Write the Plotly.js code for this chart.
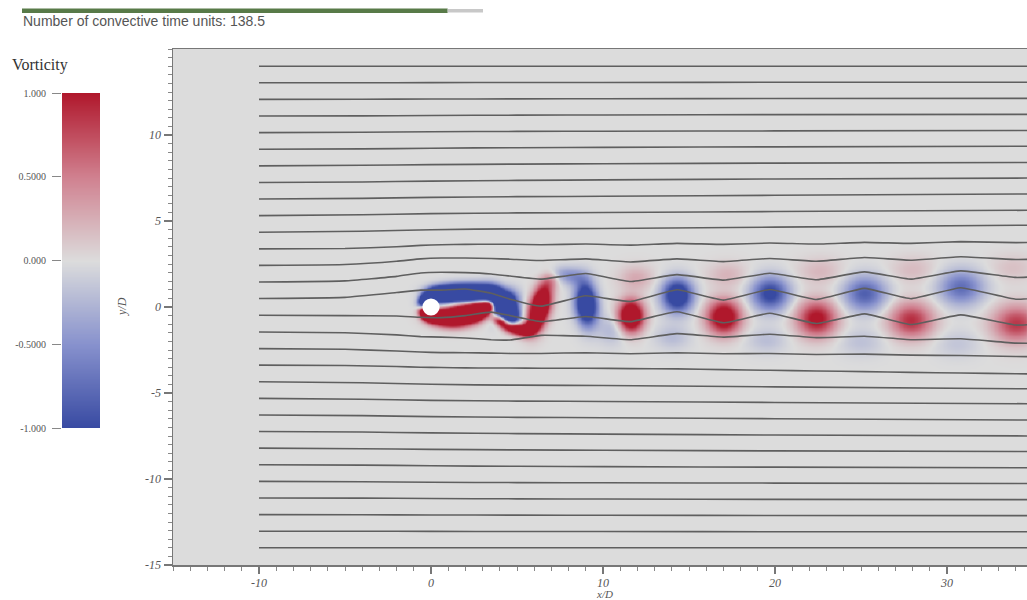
<!DOCTYPE html>
<html>
<head>
<meta charset="utf-8">
<script src="https://cdn.plot.ly/plotly-3.0.1.min.js"></script>
<style>html,body{margin:0;padding:0;background:#fff;overflow:hidden}#chart{width:1027px;height:600px}</style>
</head>
<body>
<div id="chart"></div>
<script>
// ---------------- data ----------------
const timeNow = 138.5;
const timeTotal = 150;
const titleText = "Number of convective time units: " + timeNow;

const xTickVals = [-10, 0, 10, 20, 30];
const xTickText = ["-10", "0", "10", "20", "30"];
const yTickVals = [-15, -10, -5, 0, 5, 10];
const yTickText = ["-15", "-10", "-5", "0", "5", "10"];
const colorbarTickVals = [-1, -0.5, 0, 0.5, 1];
const colorbarTickText = ["-1.000", "-0.5000", "0.000", "0.5000", "1.000"];

// vortex patches (centre x, centre y, peak vorticity, size along/across, tilt deg)
const vortX  = [-0.35, 0.4, 1.4, 2.5, 3.6, 4.3, 4.7,   -0.3, 0.6, 1.7, 2.7, 3.3,   4.0, 4.9, 5.7,   6.3, 6.9, 7.6,   9.0, 8.3, 10.5,
                11.6, 14.3, 17.0, 19.7, 22.4, 25.2, 27.9, 30.8, 34.0,
                11.9, 17.2, 22.6, 28.0, 33.8,   14.0, 19.5, 25.0, 30.6];
const vortY  = [0.45, 0.75, 0.85, 0.85, 0.65, 0.05, -0.5,   -0.4, -0.55, -0.45, -0.2, 0.1,   -0.8, -1.25, -1.25,   0.0, 1.6, 2.0,   0.2, 1.7, -1.3,
                -0.5, 0.7, -0.56, 0.8, -0.65, 0.8, -0.75, 1.15, -0.95,
                1.7, 1.9, 2.1, 2.2, 2.3,   -1.7, -1.9, -2.0, -2.1];
const vortW  = [-2.5, -2.5, -2.5, -2.5, -2.5, -2.3, -1.5,   2.5, 2.5, 2.6, 2.4, 1.8,   1.6, 1.7, 1.7,   2.2, 0.35, -0.3,   -1.9, -0.35, -0.25,
                1.8, -1.5, 1.4, -1.1, 1.1, -0.85, 0.9, -0.75, 0.85,
                0.28, 0.22, 0.2, 0.18, 0.15,   -0.22, -0.2, -0.18, -0.15];
const vortSx = [0.3, 0.5, 0.6, 0.6, 0.5, 0.4, 0.3,   0.3, 0.55, 0.6, 0.5, 0.3,   0.35, 0.45, 0.35,   0.38, 0.35, 0.7,   0.42, 0.6, 0.6,
                0.5, 0.6, 0.68, 0.75, 0.8, 0.85, 0.88, 0.9, 0.95,
                0.7, 0.8, 0.9, 0.9, 0.9,   0.7, 0.8, 0.9, 0.9];
const vortSy = [0.2, 0.3, 0.32, 0.33, 0.4, 0.55, 0.35,   0.2, 0.3, 0.38, 0.35, 0.25,   0.2, 0.22, 0.25,   0.85, 0.4, 0.3,   0.82, 0.35, 0.6,
                0.62, 0.65, 0.68, 0.68, 0.72, 0.7, 0.72, 0.7, 0.75,
                0.5, 0.5, 0.55, 0.55, 0.55,   0.5, 0.5, 0.55, 0.55];
const vortRot = [40, 0, 0, 0, -20, -30, 0,   -40, 0, 15, 30, 45,   -30, -10, 30,   -15, -30, 0,   5, 0, 0,
                 0, 0, 0, 0, 0, 0, 0, 0, 0,
                 0, 0, 0, 0, 0,   0, 0, 0, 0];

// streamline seeds at x/D = -10
const seedY = [-14.000,-13.034,-12.069,-11.103,-10.138,-9.172,-8.207,-7.241,-6.276,-5.310,-4.345,-3.379,-2.414,-1.448,-0.483,
               0.483,1.448,2.414,3.379,4.345,5.310,6.276,7.241,8.207,9.172,10.138,11.103,12.069,13.034,14.000];

// central streamlines (seeds +-0.483 ... +-3.379), y/D at these x/D
const centralX = [-10, -5, -2, -0.6, 0.6, 2, 3.5, 4.6, 6.4, 9.0, 11.6, 14.3, 17.0, 19.7, 22.4, 25.2, 27.9, 30.8, 34.0, 36];
const lineUp4 = [3.38, 3.40, 3.50, 3.58, 3.62, 3.64, 3.65, 3.65, 3.62, 3.66, 3.60, 3.70, 3.64, 3.72, 3.66, 3.76, 3.70, 3.80, 3.74, 3.76];
const lineUp3 = [2.42, 2.47, 2.66, 2.80, 2.85, 2.85, 2.82, 2.78, 2.70, 2.80, 2.62, 2.80, 2.64, 2.82, 2.66, 2.88, 2.72, 2.92, 2.76, 2.80];
const lineUp2 = [1.45, 1.52, 1.78, 1.98, 2.02, 2.00, 1.92, 1.80, 1.62, 1.95, 1.48, 1.88, 1.56, 1.96, 1.58, 2.04, 1.62, 2.10, 1.72, 1.80];
const lineUp1 = [0.49, 0.56, 0.84, 0.98, 0.98, 1.05, 0.80, 0.45, 0.05, 0.65, 0.32, 1.00, 0.40, 1.02, 0.44, 1.08, 0.48, 1.12, 0.45, 0.60];
const lineDn1 = [-0.48, -0.50, -0.52, -0.60, -0.62, -0.50, -0.30, -0.50, -0.85, -0.55, -0.85, -0.28, -0.92, -0.36, -0.96, -0.40, -1.02, -0.46, -1.05, -0.95];
const lineDn2 = [-1.45, -1.50, -1.62, -1.72, -1.75, -1.80, -1.90, -1.92, -1.65, -1.70, -1.90, -1.55, -1.75, -1.58, -1.78, -1.70, -1.90, -1.85, -2.10, -2.10];
const lineDn3 = [-2.42, -2.46, -2.56, -2.62, -2.65, -2.66, -2.68, -2.70, -2.70, -2.66, -2.72, -2.66, -2.72, -2.70, -2.76, -2.74, -2.80, -2.82, -2.88, -2.90];
const lineDn4 = [-3.38, -3.40, -3.46, -3.50, -3.52, -3.54, -3.55, -3.55, -3.56, -3.56, -3.58, -3.60, -3.64, -3.68, -3.72, -3.76, -3.80, -3.84, -3.88, -3.90];
const centralSeeds = [3.379, 2.414, 1.448, 0.483, -0.483, -1.448, -2.414, -3.379];
const centralLines = [lineUp4, lineUp3, lineUp2, lineUp1, lineDn1, lineDn2, lineDn3, lineDn4];

// outer streamlines: outward displacement for |seed| = 4.345 ... 14 at these x/D
const outerX = [-10, -4, 0, 5, 10, 20, 36];
const outerOffset = [
  [0, 0.06, 0.15, 0.20, 0.22, 0.30, 0.42],
  [0, 0.05, 0.12, 0.16, 0.18, 0.24, 0.32],
  [0, 0.04, 0.10, 0.14, 0.16, 0.22, 0.30],
  [0, 0.03, 0.08, 0.12, 0.15, 0.20, 0.26],
  [0, 0.03, 0.07, 0.10, 0.12, 0.16, 0.20],
  [0, 0.02, 0.06, 0.09, 0.11, 0.14, 0.18],
  [0, 0.02, 0.05, 0.07, 0.08, 0.10, 0.13],
  [0, 0.01, 0.03, 0.05, 0.06, 0.08, 0.10],
  [0, 0.01, 0.02, 0.03, 0.04, 0.05, 0.06],
  [0, 0.00, 0.01, 0.02, 0.02, 0.03, 0.03],
  [0, 0.00, 0.00, 0.00, 0.00, 0.00, 0.00]
];

// ---------------- build ----------------
const W = 1027, H = 600;
const px = v => v / W;
const py = v => 1 - v / H;
const BG = 'rgb(220,220,220)';
const cscale = [[0, 'rgb(56,74,162)'], [0.25, 'rgb(135,145,205)'], [0.5, BG], [0.75, 'rgb(208,128,143)'], [1, 'rgb(176,24,44)']];

// vorticity field on a grid from the vortex patches
const gx = [], gy = [];
for (let i = 0; i <= 475; i++) gx.push(-2 + i * 0.08);
for (let j = 0; j <= 115; j++) gy.push(-4.6 + j * 0.08);
const rad = vortRot.map(d => d * Math.PI / 180);
const gz = gy.map(y => gx.map(x => {
  let s = 0;
  for (let k = 0; k < vortX.length; k++) {
    const dx = x - vortX[k], dy = y - vortY[k];
    const c = Math.cos(rad[k]), sn = Math.sin(rad[k]);
    const u = dx * c + dy * sn, v = -dx * sn + dy * c;
    const e = 0.5 * (u * u / (vortSx[k] * vortSx[k]) + v * v / (vortSy[k] * vortSy[k]));
    if (e < 30) s += vortW[k] * Math.exp(-e);
  }
  return Math.max(-1, Math.min(1, s));
}));

const traces = [];
traces.push({
  type: 'heatmap', x: gx, y: gy, z: gz, zmin: -1, zmax: 1, zsmooth: 'best',
  colorscale: cscale, showscale: false, hoverinfo: 'skip', xaxis: 'x', yaxis: 'y'
});

const lineStyle = {color: 'rgb(95,95,95)', width: 1.6};
seedY.forEach((s, j) => {
  const ci = centralSeeds.findIndex(c => Math.abs(c - s) < 1e-3);
  if (ci >= 0) {
    traces.push({type: 'scatter', mode: 'lines', x: centralX, y: centralLines[ci],
      line: Object.assign({shape: 'spline', smoothing: 0.35}, lineStyle), hoverinfo: 'skip'});
  } else {
    const idx = s > 0 ? j - 19 : 10 - j;
    const sg = s > 0 ? 1 : -1;
    traces.push({type: 'scatter', mode: 'lines', x: outerX, y: outerOffset[idx].map(o => s + sg * o),
      line: Object.assign({shape: 'spline', smoothing: 0.8}, lineStyle), hoverinfo: 'skip'});
  }
});

// colour bar as its own small axis
const cbY = [], cbZ = [];
for (let i = 0; i <= 200; i++) { const v = -1 + i * 0.01; cbY.push(v); cbZ.push([v, v]); }
traces.push({type: 'heatmap', x: [0, 1], y: cbY, z: cbZ, zmin: -1, zmax: 1, zsmooth: 'best',
  colorscale: cscale, showscale: false, hoverinfo: 'skip', xaxis: 'x2', yaxis: 'y2'});

const serif = 'Liberation Serif, DejaVu Serif, serif';
const tickFont = {family: serif, size: 12, color: '#555', style: 'italic'};
const axisCommon = {
  showgrid: false, zeroline: false, showline: true, linecolor: '#777', linewidth: 1.5, mirror: true,
  ticks: 'outside', ticklen: 8, tickwidth: 1.5, tickcolor: '#777', tickfont: tickFont
};

const layout = {
  width: W, height: H, margin: {l: 0, r: 0, t: 0, b: 0},
  paper_bgcolor: '#fff', plot_bgcolor: BG, showlegend: false,
  xaxis: Object.assign({}, axisCommon, {domain: [px(173), 1], range: [-15, 34.65],
    tickvals: xTickVals, ticktext: xTickText, ticklen: 7, ticklabelstandoff: -1,
    minor: {ticks: 'outside', dtick: 1, tick0: 0, ticklen: 4, tickcolor: '#888', tickwidth: 1}}),
  yaxis: Object.assign({}, axisCommon, {domain: [py(565), py(49)], range: [-15, 15],
    tickvals: yTickVals, ticktext: yTickText,
    minor: {ticks: 'outside', dtick: 0.5, tick0: 0, ticklen: 4, tickcolor: '#888', tickwidth: 1}}),
  xaxis2: {domain: [px(62), px(100)], range: [0, 1], visible: false, anchor: 'y2', fixedrange: true},
  yaxis2: {domain: [py(428), py(93)], range: [-1, 1], anchor: 'x2', showgrid: false, zeroline: false,
    showline: false, ticks: 'outside', ticklen: 9, tickcolor: '#888', tickwidth: 1,
    tickvals: colorbarTickVals, ticktext: colorbarTickText, ticklabelstandoff: 4,
    tickfont: {family: serif, size: 10, color: '#555'}},
  shapes: [
    {type: 'rect', xref: 'paper', yref: 'paper', x0: px(22), x1: px(22 + 461 * timeNow / timeTotal), y0: py(13), y1: py(8.5),
      fillcolor: 'rgb(88,122,72)', line: {width: 0}},
    {type: 'rect', xref: 'paper', yref: 'paper', x0: px(22 + 461 * timeNow / timeTotal), x1: px(483), y0: py(12.5), y1: py(9),
      fillcolor: 'rgb(200,200,200)', line: {width: 0}},
    {type: 'circle', xref: 'x', yref: 'y', x0: -0.5, x1: 0.5, y0: -0.5, y1: 0.5, fillcolor: '#fff', line: {width: 0}, layer: 'above'}
  ],
  annotations: [
    {xref: 'paper', yref: 'paper', x: px(21), y: py(21), xanchor: 'left', yanchor: 'middle', showarrow: false,
      text: titleText, font: {family: 'Liberation Sans, Arial, sans-serif', size: 14, color: '#555'}},
    {xref: 'paper', yref: 'paper', x: px(10), y: py(65), xanchor: 'left', yanchor: 'middle', showarrow: false,
      text: 'Vorticity', font: {family: serif, size: 16, color: '#333'}},
    {xref: 'paper', yref: 'paper', x: px(122), y: py(307), xanchor: 'center', yanchor: 'middle', showarrow: false,
      textangle: -90, text: 'y/D', font: {family: serif, size: 12, color: '#555', style: 'italic'}},
    {xref: 'paper', yref: 'paper', x: px(604), y: py(594), xanchor: 'center', yanchor: 'middle', showarrow: false,
      text: 'x/D', font: {family: serif, size: 11, color: '#555', style: 'italic'}}
  ]
};

Plotly.newPlot('chart', traces, layout, {displayModeBar: false, staticPlot: true});
</script>
</body>
</html>
